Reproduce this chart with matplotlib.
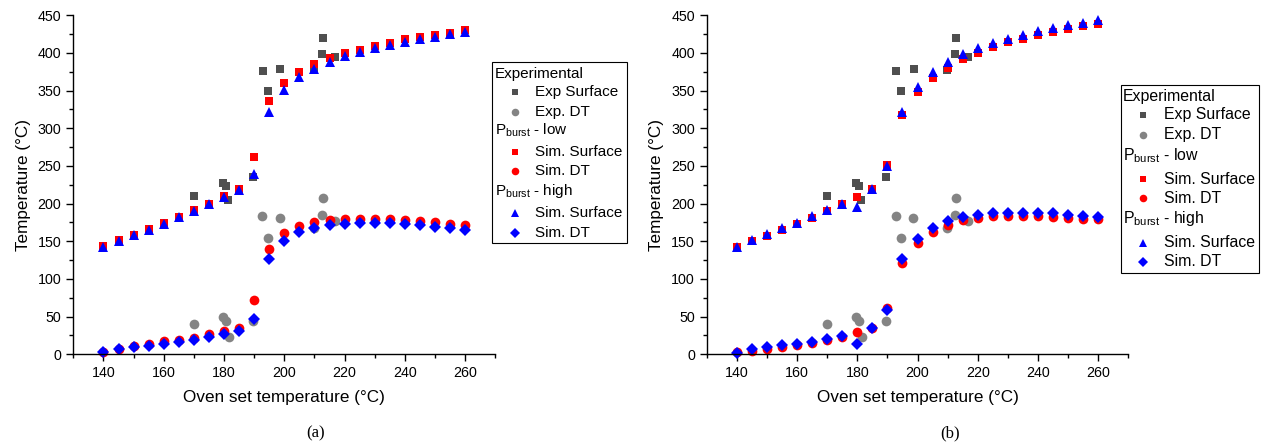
import matplotlib
matplotlib.use("Agg")
import matplotlib.pyplot as plt
from matplotlib.lines import Line2D
from matplotlib.patches import Rectangle
from matplotlib.ticker import MultipleLocator

plt.rcParams['font.family'] = ['Liberation Sans', 'DejaVu Sans']
plt.rcParams['mathtext.fontset'] = 'custom'
plt.rcParams['mathtext.rm'] = 'Liberation Sans'
plt.rcParams['mathtext.it'] = 'Liberation Sans:italic'

# ---------------- data ----------------
x_sim = [140, 145, 150, 155, 160, 165, 170, 175, 180, 185, 190, 195, 200,
         205, 210, 215, 220, 225, 230, 235, 240, 245, 250, 255, 260]

exp_surf_x = [170, 179.5, 180.5, 181.3, 189.6, 192.8, 194.5, 198.7, 209.8, 212.6, 212.9, 216.9]
exp_surf_y = [210, 227, 224, 205, 235, 376, 349, 379, 377, 398, 420, 394]
exp_dt_x = [170, 179.5, 180.5, 181.5, 189.6, 192.7, 194.6, 198.6, 209.8, 212.6, 212.9, 216.9]
exp_dt_y = [40, 49, 44, 23, 44, 183, 154, 181, 168, 185, 207, 177]

# (a)
a_low_surf = [144, 151.5, 159, 166, 174, 182.5, 191, 200, 210, 219, 262, 336, 360, 375, 385,
              393, 400, 404, 409, 413, 418, 421, 424, 427, 430]
a_high_surf = [143, 151, 159, 165.5, 173.5, 182, 190.5, 199, 209, 218, 239, 322, 351, 368, 379,
               388.5, 395.5, 401, 406, 410.5, 415, 418, 421.5, 425, 428]
a_low_dt = [3, 7.5, 11, 13.5, 17, 19.5, 22, 26.5, 30.5, 35, 72, 140, 160.5, 170, 175.5,
            178.5, 180, 180, 179.5, 179, 178, 176.5, 175, 173, 171]
a_high_dt = [2.5, 6.5, 9.5, 11, 13.5, 16, 19.5, 23, 27.5, 31, 47.5, 126, 150.5, 162, 167.5,
             171.5, 173.5, 174.5, 174.5, 174, 172.5, 171, 169.5, 167.5, 165.5]

# (b)
b_low_surf = [143, 151, 157.5, 165.5, 172.5, 181.5, 190.5, 200, 209, 220, 251, 317, 348, 367, 380,
              392.5, 400.5, 408, 414, 419, 424, 428, 432, 435.5, 439]
b_high_surf = [143, 152, 159.5, 167, 174.5, 183, 191.5, 200, 195, 220, 249.5, 321.5, 355, 375, 388,
               398, 406.5, 413, 418.5, 424, 428.5, 432.5, 436.5, 440, 443.5]
b_low_dt = [2.5, 5, 6.5, 9.5, 12, 15, 19, 23, 29, 34.5, 62, 121, 148, 162.5, 171,
            178, 181.5, 183, 183.5, 183.5, 183, 182.5, 181, 179.5, 179]
b_high_dt = [2, 6.5, 9.5, 12, 14, 16.5, 20.5, 24.5, 13.5, 34.5, 58.5, 126, 153.5, 168, 177,
             182.5, 185.5, 187, 188, 188, 187.5, 187, 185.5, 183.5, 182]

x_ticks = [140, 160, 180, 200, 220, 240, 260]
y_ticks = [0, 50, 100, 150, 200, 250, 300, 350, 400, 450]

C_EXP_S = '#4f4f4f'
C_EXP_D = '#848484'
C_RED = '#ff0000'
C_BLUE = '#0000ff'

styles = {
    'exp_s': dict(marker='s', color=C_EXP_S, ms=6.2),
    'exp_d': dict(marker='o', color=C_EXP_D, ms=7.0),
    'low_s': dict(marker='s', color=C_RED, ms=6.2),
    'low_d': dict(marker='o', color=C_RED, ms=7.0),
    'high_s': dict(marker='^', color=C_BLUE, ms=7.8),
    'high_d': dict(marker='D', color=C_BLUE, ms=6.0),
}

W, H = 1261, 446
fig = plt.figure(figsize=(W / 100, H / 100), dpi=100)


def ax_rect(l, t, r, b):
    return [l / W, 1 - b / H, (r - l) / W, (b - t) / H]


def plot_panel(ax, low_s, low_d, high_s, high_d):
    kw = dict(linestyle='none', markeredgewidth=0, clip_on=False)
    ax.plot(exp_surf_x, exp_surf_y, **styles['exp_s'], **kw)
    ax.plot(exp_dt_x, exp_dt_y, **styles['exp_d'], **kw)
    ax.plot(x_sim, low_s, **styles['low_s'], **kw)
    ax.plot(x_sim, low_d, **styles['low_d'], **kw)
    ax.plot(x_sim, high_s, **styles['high_s'], **kw)
    ax.plot(x_sim, high_d, **styles['high_d'], **kw)
    ax.set_xlim(130, 270)
    ax.set_ylim(0, 450)
    ax.set_xticks(x_ticks)
    ax.set_yticks(y_ticks)
    ax.xaxis.set_minor_locator(MultipleLocator(10))
    ax.yaxis.set_minor_locator(MultipleLocator(25))
    for s in ['top', 'right']:
        ax.spines[s].set_visible(False)
    for s in ['left', 'bottom']:
        ax.spines[s].set_linewidth(1.0)
    ax.tick_params(which='major', direction='out', length=5, width=1, labelsize=10.3)
    ax.tick_params(which='minor', direction='out', length=3, width=1)
    ax.set_xlabel('Oven set temperature (°C)', fontsize=12.3, labelpad=7)
    ax.set_ylabel('Temperature (°C)', fontsize=12.3, labelpad=5)


def draw_legend(left, top, right, bottom, rows, x_head, x_mark, x_text, fs):
    fig.patches.append(Rectangle((left / W, 1 - bottom / H), (right - left) / W, (bottom - top) / H,
                                 transform=fig.transFigure, fill=False, edgecolor='black',
                                 linewidth=0.8, figure=fig))
    entries = [
        ('head', 'Experimental', None),
        ('item', 'Exp Surface', 'exp_s'),
        ('item', 'Exp. DT', 'exp_d'),
        ('head', r'P$_{\mathrm{burst}}$ - low', None),
        ('item', 'Sim. Surface', 'low_s'),
        ('item', 'Sim. DT', 'low_d'),
        ('head', r'P$_{\mathrm{burst}}$ - high', None),
        ('item', 'Sim. Surface', 'high_s'),
        ('item', 'Sim. DT', 'high_d'),
    ]
    for (kind, label, key), ry in zip(entries, rows):
        yy = 1 - ry / H
        if kind == 'head':
            fig.text(x_head / W, yy, label, fontsize=fs, va='center', ha='left')
        else:
            st = styles[key]
            fig.lines.append(Line2D([x_mark / W], [yy], transform=fig.transFigure,
                                    linestyle='none', marker=st['marker'], color=st['color'],
                                    ms=st['ms'] * 0.78, markeredgewidth=0, figure=fig))
            fig.text(x_text / W, yy, label, fontsize=fs, va='center', ha='left')


ax1 = fig.add_axes(ax_rect(73.3, 15.3, 495.3, 354.3))
plot_panel(ax1, a_low_surf, a_low_dt, a_high_surf, a_high_dt)
ax2 = fig.add_axes(ax_rect(706.7, 15.3, 1128.3, 354.3))
plot_panel(ax2, b_low_surf, b_low_dt, b_high_surf, b_high_dt)

draw_legend(491.7, 61.7, 626.7, 243.3,
            [74, 92.3, 111.7, 130, 151.7, 170.7, 190.7, 213.3, 232.7],
            495, 515, 535, 11)
draw_legend(1120.7, 85, 1258.7, 272.7,
            [96.7, 115, 135, 156, 179.3, 198.3, 218.3, 242.7, 261.7],
            1123, 1143.3, 1164, 11.4)

fig.text(316 / W, 1 - 433 / H, '(a)', fontsize=12, family=['Liberation Serif'], ha='center', va='center')
fig.text(950 / W, 1 - 433 / H, '(b)', fontsize=12, family=['Liberation Serif'], ha='center', va='center')

fig.savefig('out.png', dpi=100)
